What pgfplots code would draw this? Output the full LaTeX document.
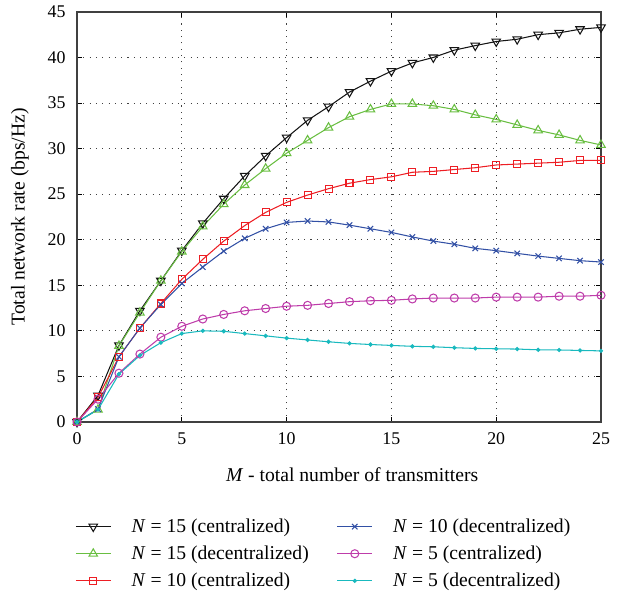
\documentclass[border=0pt]{standalone}
\usepackage{pgfplots}
\pgfplotsset{compat=1.18}
\usepackage{fontspec}
\setmainfont{Liberation Serif}

\definecolor{cBlack}{RGB}{20,20,20}
\definecolor{cGreen}{RGB}{105,190,65}
\definecolor{cRed}{RGB}{237,30,36}
\definecolor{cBlue}{RGB}{50,80,165}
\definecolor{cMag}{RGB}{190,60,170}
\definecolor{cCyan}{RGB}{25,185,190}
\newcommand{\lf}{\fontsize{11.2}{13.4}\selectfont}
\newcommand{\tf}{\fontsize{10.2}{12}\selectfont}

\begin{document}
\begin{tikzpicture}
\begin{axis}[
scale only axis,
width=299pt, height=234pt,
xmin=0, xmax=25, ymin=0, ymax=45,
xtick distance=5, ytick distance=5,
grid=major,
major grid style={black!75, line width=0.5pt, dash pattern=on 0.6pt off 3pt},
axis line style={black!75, line width=0.7pt},
tick style={black, line width=0.5pt},
major tick length=3pt,
/pgf/number format/assume math mode=true,
tick label style={font=\tf},
xticklabel style={yshift=-2.5pt},
yticklabel style={xshift=-3pt},
xlabel={\textit{M} - total number of transmitters},
ylabel={Total network rate (bps/Hz)},
label style={font=\lf},
x label style={at={(axis description cs:0.525,-0.129)}, anchor=center},
y label style={at={(axis description cs:-0.109,0.5)}, anchor=center},
legend style={at={(axis description cs:-0.004,-0.226)}, anchor=north west, draw=none, fill=none,
  legend columns=3, font=\lf, row sep=2.2pt, inner sep=0pt,
  /tikz/every even column/.append style={column sep=14pt}},
transpose legend,
legend cell align=left,
legend image code/.code={\draw[mark repeat=2,mark phase=2] plot coordinates {(0cm,0cm) (0.35cm,0cm) (0.7cm,0cm)}; \path[draw=none,fill=none] (0,0) (1.05cm,0);},
every axis plot/.append style={line width=0.6pt},
]
\addplot[color=cBlack, mark=triangle, mark size=2.8pt, mark options={rotate=180, solid}] coordinates {
(0,0) (1,2.9) (2,8.4) (3,12.2) (4,15.5) (5,18.8) (6,21.8) (7,24.5) (8,27.0) (9,29.2) (10,31.2) (11,33.1) (12,34.6) (13,36.2) (14,37.4) (15,38.5) (16,39.4) (17,40.0) (18,40.8) (19,41.3) (20,41.75) (21,42.0) (22,42.5) (23,42.7) (24,43.1) (25,43.3)};
\addlegendentry{\textit{N} = 15 (centralized)}
\addplot[color=cGreen, mark=triangle, mark size=2.8pt] coordinates {
(0,0) (1,1.35) (2,8.35) (3,12.0) (4,15.5) (5,18.7) (6,21.45) (7,23.9) (8,26.0) (9,27.8) (10,29.5) (11,30.9) (12,32.3) (13,33.5) (14,34.3) (15,34.9) (16,34.9) (17,34.7) (18,34.3) (19,33.7) (20,33.2) (21,32.6) (22,32.0) (23,31.5) (24,30.9) (25,30.4)};
\addlegendentry{\textit{N} = 15 (decentralized)}
\addplot[color=cRed, mark=square, mark size=2pt] coordinates {
(0,0) (1,2.7) (2,7.15) (3,10.3) (4,13.0) (5,15.65) (6,17.85) (7,19.85) (8,21.55) (9,23.0) (10,24.1) (11,24.9) (12,25.6) (13,26.2) (14,26.6) (15,26.9) (16,27.4) (17,27.5) (18,27.7) (19,27.9) (20,28.2) (21,28.3) (22,28.4) (23,28.5) (24,28.7) (25,28.7)};
\addlegendentry{\textit{N} = 10 (centralized)}
\addplot[color=cBlue, mark=x, mark size=2.2pt] coordinates {
(0,0) (1,1.4) (2,7.15) (3,10.3) (4,12.9) (5,15.2) (6,17.0) (7,18.75) (8,20.15) (9,21.2) (10,21.9) (11,22.05) (12,21.95) (13,21.6) (14,21.2) (15,20.8) (16,20.3) (17,19.85) (18,19.5) (19,19.05) (20,18.8) (21,18.5) (22,18.2) (23,17.95) (24,17.7) (25,17.55)};
\addlegendentry{\textit{N} = 10 (decentralized)}
\addplot[color=cMag, mark=o, mark size=2.3pt] coordinates {
(0,0) (1,2.5) (2,5.35) (3,7.45) (4,9.3) (5,10.5) (6,11.3) (7,11.8) (8,12.2) (9,12.45) (10,12.7) (11,12.8) (12,13.0) (13,13.2) (14,13.3) (15,13.35) (16,13.5) (17,13.6) (18,13.6) (19,13.6) (20,13.7) (21,13.7) (22,13.7) (23,13.8) (24,13.8) (25,13.9)};
\addlegendentry{\textit{N} = 5 (centralized)}
\addplot[color=cCyan, mark=*, mark size=0.9pt] coordinates {
(0,0) (1,1.35) (2,5.25) (3,7.3) (4,8.7) (5,9.7) (6,10.0) (7,9.95) (8,9.7) (9,9.45) (10,9.2) (11,9.0) (12,8.8) (13,8.62) (14,8.5) (15,8.4) (16,8.3) (17,8.25) (18,8.15) (19,8.07) (20,8.03) (21,8.0) (22,7.92) (23,7.9) (24,7.85) (25,7.8)};
\addlegendentry{\textit{N} = 5 (decentralized)}
\coordinate (bbA) at (rel axis cs:-0.147,-0.421);
\coordinate (bbB) at (rel axis cs:1.0706,1.029);
\end{axis}
\path (bbA) rectangle (bbB);
\end{tikzpicture}
\end{document}
